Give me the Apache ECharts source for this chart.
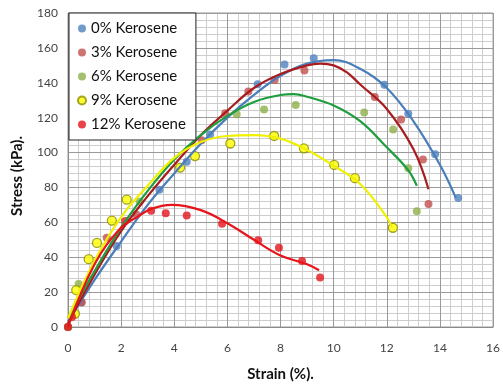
<!DOCTYPE html>
<html>
<head>
<meta charset="utf-8">
<script src="https://cdn.jsdelivr.net/npm/echarts@6/dist/echarts.min.js"></script>
<style>
  html, body { margin: 0; padding: 0; background: #fff; }
  #chart { width: 503px; height: 387px; }
</style>
</head>
<body>
<div id="chart"></div>
<script>
// Measured points: strain (%) and stress (kPa) for each kerosene content
const names = ['0% Kerosene', '3% Kerosene', '6% Kerosene', '9% Kerosene', '12% Kerosene'];

const strain0 = [0, 0.5, 1.83, 3.44, 4.47, 5.35, 7.14, 8.15, 9.25, 11.91, 12.81, 13.82, 14.69];
const stress0 = [0, 14, 46.5, 78.7, 94.8, 110.3, 139.2, 150.5, 154, 138.8, 122.3, 99, 73.9];

const strain3 = [0, 0.52, 1.46, 2.57, 5.03, 5.92, 6.79, 7.78, 8.9, 11.55, 12.54, 13.36, 13.57];
const stress3 = [0, 14.2, 51.2, 64.5, 107, 122.5, 135, 141.6, 147, 131.8, 119, 96, 70.5];

const strain6 = [0, 0.4, 2.7, 6.35, 7.38, 8.57, 11.15, 12.24, 12.81, 13.13];
const stress6 = [0, 24.6, 72, 122, 124.7, 127.2, 123, 113.2, 91, 66.4];

const strain9 = [0.26, 0.31, 0.78, 1.09, 1.65, 2.21, 4.22, 4.78, 6.11, 7.76, 8.88, 10.02, 10.8, 12.23];
const stress9 = [7.6, 21.1, 38.9, 48.2, 61, 73, 91.4, 98, 105.2, 109.5, 102.4, 92.9, 85.3, 56.9];

const strain12 = [0, 0.15, 2.16, 3.13, 3.68, 4.47, 5.8, 7.16, 7.94, 8.81, 9.49];
const stress12 = [0, 5.7, 60.7, 66.7, 65.2, 63.9, 59.2, 49.7, 45.5, 37.9, 28.4];

// Trend curves drawn through each data set
const trendX0 = [0, 1, 2, 3, 4, 5, 6, 7, 8, 9, 10, 11, 12, 13, 14, 14.6];
const trendY0 = [3, 27, 49, 70, 88, 105, 120, 133, 144, 151, 153, 148, 137, 118, 93, 74];

const trendX3 = [0, 1, 2, 3, 4, 5, 6, 7, 8, 9, 9.5, 10, 10.5, 11, 12, 13, 13.57];
const trendY3 = [2, 30, 55, 75, 93, 110, 124, 137, 145, 150, 151, 150, 146, 139, 125, 102, 79];

const trendX6 = [0, 1, 2, 3, 4, 5, 6, 7, 8, 8.5, 9, 10, 11, 12, 12.8, 13.13];
const trendY6 = [5, 32, 57, 78, 96, 110, 121, 129, 133, 133.5, 132, 127, 118, 103, 90, 81];

const trendX9 = [0, 1, 2, 3, 4, 5, 6, 7, 8, 9, 10, 11, 12, 12.2];
const trendY9 = [5, 38, 63, 81, 97, 106, 109.5, 110, 108, 101.5, 92.5, 82, 63, 57];

const trendX12 = [0, 1, 2, 2.6, 3.1, 3.9, 5, 6, 7, 8, 9, 9.45];
const trendY12 = [0, 36, 57, 63, 67.5, 70, 67, 59.5, 50, 41, 36, 32.5];

// Axis ranges: major steps plus the fine graph-paper steps
const xTicks = { min: 0, max: 16, interval: 2, minorInterval: 0.4 };
const yTicks = { min: 0, max: 180, interval: 20, minorInterval: 4 };

const dotColors = ['#4F81BD', '#C0504D', '#8DB04A', '#FFFF00', '#E3141C'];
const lineColors = ['#4A7EBB', '#A81C1F', '#1E9E3E', '#F0F000', '#E8141C'];

const pts = [[strain0, stress0], [strain3, stress3], [strain6, stress6], [strain9, stress9], [strain12, stress12]];
const trends = [[trendX0, trendY0], [trendX3, trendY3], [trendX6, trendY6], [trendX9, trendY9], [trendX12, trendY12]];

const zip = (xs, ys) => xs.map((x, i) => [x, ys[i]]);

const series = [];
names.forEach((name, i) => {
  series.push({
    name: name,
    type: 'scatter',
    xAxisIndex: 1, yAxisIndex: 1,
    data: zip(pts[i][0], pts[i][1]),
    symbol: 'circle',
    symbolSize: i === 3 ? 9 : 8,
    itemStyle: i === 3
      ? { color: dotColors[i], borderColor: '#8C8C00', borderWidth: 1.3 }
      : { color: dotColors[i] },
    z: 3
  });
});
names.forEach((name, i) => {
  series.push({
    name: name + ' trend',
    type: 'line',
    xAxisIndex: 1, yAxisIndex: 1,
    data: zip(trends[i][0], trends[i][1]),
    smooth: 0.4,
    showSymbol: false,
    lineStyle: { color: lineColors[i], width: 2.2 },
    silent: true,
    z: 4
  });
});

// Fine grid axis: only its split lines are drawn, underneath the main grid
function fineAxis(t, side) {
  return {
    type: 'value',
    position: side,
    min: t.min, max: t.max, interval: t.minorInterval,
    z: 0,
    axisLine: { show: false },
    axisTick: { show: false },
    axisLabel: { show: false },
    splitLine: { show: true, lineStyle: { color: '#CDCDCD', width: 1 } }
  };
}

const chart = echarts.init(document.getElementById('chart'), null, { renderer: 'canvas' });
chart.setOption({
  animation: false,
  backgroundColor: '#fff',
  grid: {
    left: 68, right: 6, top: 13, bottom: 57,
    show: true, borderColor: '#9A9A9A', borderWidth: 1, backgroundColor: '#fff'
  },
  legend: {
    data: names,
    orient: 'vertical',
    left: 69, top: 13,
    backgroundColor: '#fff',
    borderColor: '#222',
    borderWidth: 1,
    padding: [8, 10, 8, 8],
    itemGap: 9,
    itemWidth: 8, itemHeight: 8,
    icon: 'circle',
    textStyle: { fontFamily: 'Lato', fontSize: 15, color: '#111' },
    z: 10
  },
  xAxis: [fineAxis(xTicks, 'top'), {
    type: 'value',
    position: 'bottom',
    min: xTicks.min, max: xTicks.max, interval: xTicks.interval,
    z: 1,
    name: 'Strain (%).',
    nameLocation: 'middle',
    nameGap: 40,
    nameTextStyle: { fontFamily: 'Lato', fontWeight: 'bold', fontSize: 15, color: '#111' },
    axisLine: { show: true, lineStyle: { color: '#8A8A8A' } },
    axisTick: { show: false },
    axisLabel: { fontFamily: 'Lato', fontSize: 12, color: '#444', margin: 15 },
    splitLine: { show: true, lineStyle: { color: '#9A9A9A', width: 1 } }
  }],
  yAxis: [fineAxis(yTicks, 'right'), {
    type: 'value',
    position: 'left',
    min: yTicks.min, max: yTicks.max, interval: yTicks.interval,
    z: 1,
    axisLine: { show: true, lineStyle: { color: '#8A8A8A' } },
    axisTick: { show: false },
    axisLabel: { fontFamily: 'Lato', fontSize: 12, color: '#444', margin: 10 },
    splitLine: { show: true, lineStyle: { color: '#9A9A9A', width: 1 } }
  }],
  graphic: [{
    type: 'text',
    left: 10, top: 136,
    rotation: Math.PI / 2,
    style: {
      text: 'Stress (kPa).',
      font: 'bold 15px Lato',
      fill: '#111'
    }
  }],
  series: series
});
</script>
</body>
</html>
